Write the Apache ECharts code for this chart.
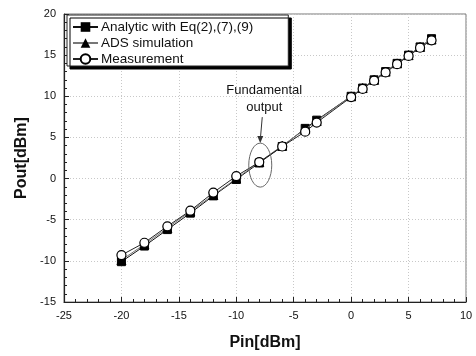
<!DOCTYPE html>
<html><head><meta charset="utf-8">
<script src="https://cdn.jsdelivr.net/npm/echarts@6/dist/echarts.min.js"></script>
<style>html,body{margin:0;padding:0;background:#fff}#c{width:476px;height:356px}</style>
</head><body><div id="c"></div>
<script>
const pin = [-20,-18,-16,-14,-12,-10,-8,-6,-4,-3,0,1,2,3,4,5,6,7];
const analytic = [-10.1,-8.2,-6.2,-4.2,-2.1,-0.1,1.9,3.9,6.1,7.1,10,11,12,13,14,15,16,17];
const ads = [-9.9,-8.0,-6.0,-4.0,-2.0,0.0,2.0,4.0,6.0,7.0,10,11,12,13,14,15,16,16.9];
const measurement = [-9.3,-7.8,-5.8,-3.9,-1.7,0.3,2.0,3.9,5.7,6.8,9.9,10.9,11.9,12.9,13.9,14.9,15.9,16.8];
const seriesNames = ['Analytic with Eq(2),(7),(9)','ADS simulation','Measurement'];
const annotationText = 'Fundamental\noutput';
const annotationPoint = [-8, 2];

const zip = (ys) => pin.map((x,i)=>[x,ys[i]]);
const font = 'Arial, "Liberation Sans", sans-serif';
const chart = echarts.init(document.getElementById('c'), null, {renderer:'canvas'});
const axisCommon = {
  axisLine:{show:true,onZero:false,lineStyle:{color:'#222',width:1.2}},
  axisTick:{show:true,inside:true,length:5,lineStyle:{color:'#222'}},
  minorTick:{show:true,splitNumber:5,length:3,lineStyle:{color:'#222'}},
  splitLine:{show:true,lineStyle:{color:'#c8c8c8',type:[1,2],width:1}},
  axisLabel:{color:'#111',fontFamily:font,fontSize:11},
  nameTextStyle:{color:'#111',fontFamily:font,fontSize:16,fontWeight:'bold'}
};
chart.setOption({
  animation:false,
  grid:{left:64,right:10,top:14,bottom:54,show:true,borderColor:'#777',borderWidth:1},
  legend:{
    orient:'vertical',left:67,top:15,
    data:seriesNames,
    backgroundColor:'#fff',borderColor:'#222',borderWidth:1,
    shadowColor:'#000',shadowBlur:0,shadowOffsetX:3,shadowOffsetY:3,
    padding:[5,35,0,5],itemGap:2,itemWidth:25,itemHeight:12,
    textStyle:{fontFamily:font,fontSize:13.5,lineHeight:12,color:'#111',padding:[0,0,0,-2]}
  },
  xAxis:Object.assign({},axisCommon,{type:'value',min:-25,max:10,interval:5,
    name:'Pin[dBm]',nameLocation:'middle',nameGap:33}),
  yAxis:Object.assign({},axisCommon,{type:'value',min:-15,max:20,interval:5,
    name:'Pout[dBm]',nameLocation:'middle',nameGap:32}),
  series:[
    {name:seriesNames[0],type:'line',data:zip(analytic),symbol:'rect',symbolSize:8,
     itemStyle:{color:'#000',borderColor:'#000'},lineStyle:{color:'#111',width:1},z:2},
    {name:seriesNames[1],type:'line',data:zip(ads),symbol:'triangle',symbolSize:9,
     itemStyle:{color:'#000',borderColor:'#000'},lineStyle:{color:'#777',width:1},z:3},
    {name:seriesNames[2],type:'line',data:zip(measurement),symbol:'circle',symbolSize:9,
     itemStyle:{color:'#fff',borderColor:'#000',borderWidth:1.2},lineStyle:{color:'#222',width:1},z:4}
  ]
});
const p = chart.convertToPixel({gridIndex:0}, annotationPoint);
chart.setOption({graphic:[
  {type:'ellipse',shape:{cx:p[0]+1,cy:p[1]+3,rx:11.5,ry:22},style:{fill:'none',stroke:'#666',lineWidth:1},z:10},
  {type:'line',shape:{x1:p[0]+3,y1:p[1]-45,x2:p[0]+1,y2:p[1]-22},style:{stroke:'#333',lineWidth:1},z:10},
  {type:'polygon',shape:{points:[[p[0]+1,p[1]-19],[p[0]-2,p[1]-26],[p[0]+4,p[1]-26]]},style:{fill:'#333'},z:10},
  {type:'text',x:p[0]+5,y:p[1]-80,style:{text:annotationText,align:'center',verticalAlign:'top',
    font:'13px '+font,fill:'#111',lineHeight:17},z:10}
]});
</script></body></html>
